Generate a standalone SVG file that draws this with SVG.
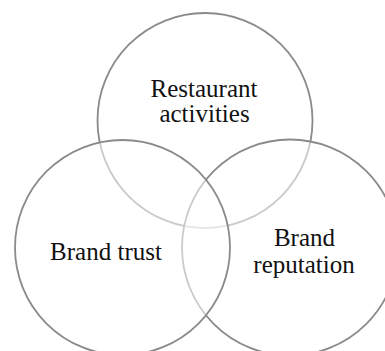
<svg xmlns="http://www.w3.org/2000/svg" width="385" height="351" viewBox="0 0 385 351">
  <style>
    .set { fill: #ffffff; fill-opacity: 0.55; stroke: #8a8a8a; stroke-width: 1.8; }
    .label { fill: #111111; text-anchor: middle; }
  </style>
  <rect width="385" height="351" fill="#ffffff"/>
  <!-- Venn sets: later circles veil the outlines beneath them -->
  <g id="restaurant-activities">
    <circle class="set" cx="205" cy="120.5" r="107.5"/>
    <text class="label" font-family="'Liberation Serif', 'DejaVu Serif', serif" font-size="25" x="204" y="96.5">Restaurant</text>
    <text class="label" font-family="'Liberation Serif', 'DejaVu Serif', serif" font-size="25" x="204.5" y="122">activities</text>
  </g>
  <g id="brand-reputation">
    <circle class="set" cx="290" cy="247.5" r="108"/>
    <text class="label" font-family="'Liberation Serif', 'DejaVu Serif', serif" font-size="25" x="304.5" y="245.5">Brand</text>
    <text class="label" font-family="'Liberation Serif', 'DejaVu Serif', serif" font-size="25" x="304" y="272.5">reputation</text>
  </g>
  <g id="brand-trust">
    <circle class="set" cx="122.5" cy="247.5" r="107.5"/>
    <text class="label" font-family="'Liberation Serif', 'DejaVu Serif', serif" font-size="25" x="106" y="260">Brand trust</text>
  </g>
  <g id="connectors"/>
</svg>
